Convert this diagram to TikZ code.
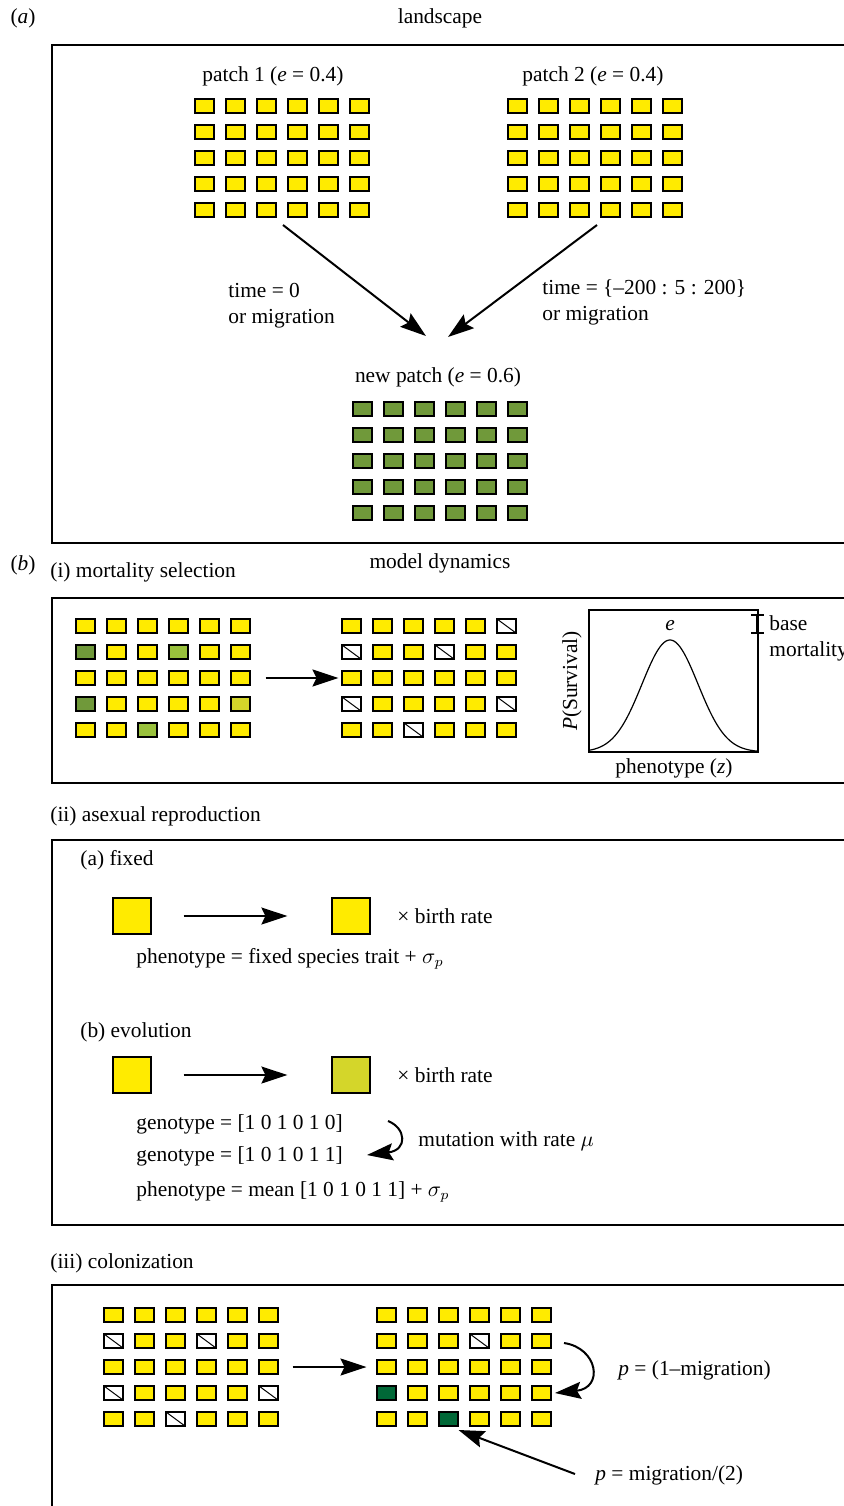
\documentclass[tikz,border=0pt]{standalone}
\usepackage{fontspec}
\setmainfont{Liberation Serif}
\usetikzlibrary{arrows.meta,calc}

\definecolor{cellyellow}{RGB}{255,235,0}
\definecolor{cellolive}{RGB}{112,153,58}
\definecolor{celllight}{RGB}{153,193,60}
\definecolor{cellkhaki}{RGB}{212,214,42}
\definecolor{celldark}{RGB}{0,104,55}

\begin{document}
\begin{tikzpicture}[x=0.5pt, y=-0.5pt, font=\fontsize{10.7pt}{13pt}\selectfont,
	frame/.style={line width=0.75pt},
	cell/.style={draw, line width=0.6pt, minimum width=9.5pt, minimum height=7pt, inner sep=0pt},
	cell y/.style={cell, fill=cellyellow},
	cell g/.style={cell, fill=cellolive},
	cell l/.style={cell, fill=celllight},
	cell k/.style={cell, fill=cellkhaki},
	cell d/.style={cell, fill=celldark},
	cell x/.style={cell, fill=white, path picture={\draw[line width=0.5pt] (path picture bounding box.north west) -- (path picture bounding box.south east);}},
	big/.style={draw, line width=0.6pt, minimum width=19pt, minimum height=18pt, inner sep=0pt},
	arr/.style={line width=1pt, -{Stealth[length=13pt, width=8.5pt, inset=2pt]}},
	lbl/.style={anchor=west, inner sep=0pt}]

\useasboundingbox (0,0) rectangle (843,1506);

% (a) landscape
\node (taga) at (23,18) {(\textit{a})};
\node (land) at (440,18) {landscape};
\draw[frame] (52,45) rectangle (870,543);

\node (p1lbl) at (273,76) {patch 1 (\textit{e} = 0.4)};
\node (p2lbl) at (593,76) {patch 2 (\textit{e} = 0.4)};
\foreach \r in {0,...,4}
	\foreach \c in {0,...,5} {
		\node[cell y] (p1-\r-\c) at ({204.5+31*\c},{106+26*\r}) {};
		\node[cell y] (p2-\r-\c) at ({517.5+31*\c},{106+26*\r}) {};
	}

\node (nplbl) at (438,377) {new patch (\textit{e} = 0.6)};
\foreach \r in {0,...,4}
	\foreach \c in {0,...,5}
		\node[cell g] (np-\r-\c) at ({362.5+31*\c},{409+26*\r}) {};

\coordinate (from1) at (283,225);
\coordinate (from2) at (597,225);
\coordinate (to1) at (426,336);
\coordinate (to2) at (448,337);
\draw[arr] (from1) -- (to1);
\draw[arr] (from2) -- (to2);
\node[lbl, align=left] (t0) at (228,306) {time = 0\\or migration};
\node[lbl, align=left] (t1) at (542,302) {time = \{–200 : 5 : 200\}\\or migration};

% (b) model dynamics
\node (tagb) at (23,565) {(\textit{b})};
\node (dyn) at (440,563) {model dynamics};

% (i) mortality selection
\node[lbl] (mort) at (50,572) {(i) mortality selection};
\draw[frame] (52,598) rectangle (870,783);

\foreach \row [count=\r from 0] in {{y,y,y,y,y,y},{g,y,y,l,y,y},{y,y,y,y,y,y},{g,y,y,y,y,k},{y,y,l,y,y,y}}
	\foreach \s [count=\c from 0] in \row
		\node[cell \s] (ma-\r-\c) at ({85.5+31*\c},{626+26*\r}) {};
\foreach \row [count=\r from 0] in {{y,y,y,y,y,x},{x,y,y,x,y,y},{y,y,y,y,y,y},{x,y,y,y,y,x},{y,y,x,y,y,y}}
	\foreach \s [count=\c from 0] in \row
		\node[cell \s] (mb-\r-\c) at ({351.5+31*\c},{626+26*\r}) {};
\draw[arr] (ma-2-5) ++(25,0) -- ($(mb-2-0)+(-13,0)$);

% survival curve
\draw[frame] (589,610) rectangle (758,752);
\draw[line width=0.6pt] plot[domain=589:758, samples=120, smooth] (\x,{752-112*exp(-0.5*((\x-670)/28)^2)});
\node (e) at (670,626) {\textit{e}};
\draw[line width=0.6pt] (757,615) -- (757,633);
\draw[line width=0.6pt] (751,615) -- (764,615);
\draw[line width=0.6pt] (751,633) -- (764,633);
\node[lbl, align=left] (basem) at (769,638) {base\\mortality};
\node[rotate=90] (surv) at (572,681) {\textit{P}(Survival)};
\node (phen) at (674,768) {phenotype (\textit{z})};

% (ii) asexual reproduction
\node[lbl] (asex) at (50,816) {(ii) asexual reproduction};
\draw[frame] (52,840) rectangle (870,1225);

\node[lbl] (fixed) at (80,860) {(a) fixed};
\node[big, fill=cellyellow] (fa) at (132,916) {};
\node[big, fill=cellyellow] (fb) at (351,916) {};
\draw[arr, shorten <=16pt, shorten >=22pt] (fa) -- (fb);
\node[lbl] (fbr) at (397,916) {× birth rate};
\node[lbl] (fph) at (136,959) {phenotype = fixed species trait + $\sigma_p$};

\node[lbl] (evol) at (80,1032) {(b) evolution};
\node[big, fill=cellyellow] (ea) at (132,1075) {};
\node[big, fill=cellkhaki] (eb) at (351,1075) {};
\draw[arr, shorten <=16pt, shorten >=22pt] (ea) -- (eb);
\node[lbl] (ebr) at (397,1075) {× birth rate};
\node[lbl] (g1) at (136,1124) {genotype = [1 0 1 0 1 0]};
\node[lbl] (g2) at (136,1156) {genotype = [1 0 1 0 1 1]};
\node[lbl] (eph) at (136,1192) {phenotype = mean [1 0 1 0 1 1] + $\sigma_p$};
\coordinate (mutA) at (388,1121);
\coordinate (mutB) at (367,1155);
\draw[arr] (mutA) .. controls (406,1128) and (408,1150) .. (mutB);
\node[lbl] (mutl) at (418,1141) {mutation with rate $\mu$};

% (iii) colonization
\node[lbl] (colo) at (50,1263) {(iii) colonization};
\draw[frame] (870,1285) -- (52,1285) -- (52,1530);

\foreach \row [count=\r from 0] in {{y,y,y,y,y,y},{x,y,y,x,y,y},{y,y,y,y,y,y},{x,y,y,y,y,x},{y,y,x,y,y,y}}
	\foreach \s [count=\c from 0] in \row
		\node[cell \s] (ca-\r-\c) at ({113.5+31*\c},{1315+26*\r}) {};
\foreach \row [count=\r from 0] in {{y,y,y,y,y,y},{y,y,y,x,y,y},{y,y,y,y,y,y},{d,y,y,y,y,y},{y,y,d,y,y,y}}
	\foreach \s [count=\c from 0] in \row
		\node[cell \s] (cb-\r-\c) at ({386.5+31*\c},{1315+26*\r}) {};
\draw[arr] (ca-2-5) ++(24,0) -- ($(cb-2-0)+(-20,0)$);

\coordinate (stayA) at (564,1343);
\coordinate (stayB) at (555,1393);
\draw[arr] (stayA) .. controls (598,1348) and (604,1388) .. (stayB);
\node[lbl] (stayl) at (618,1370) {\textit{p} = (1–migration)};

\coordinate (migA) at (575,1474);
\draw[arr] (migA) -- ($(cb-4-2)+(10,11)$);
\node[lbl] (migl) at (595,1475) {\textit{p} = migration/(2)};
\end{tikzpicture}
\end{document}
